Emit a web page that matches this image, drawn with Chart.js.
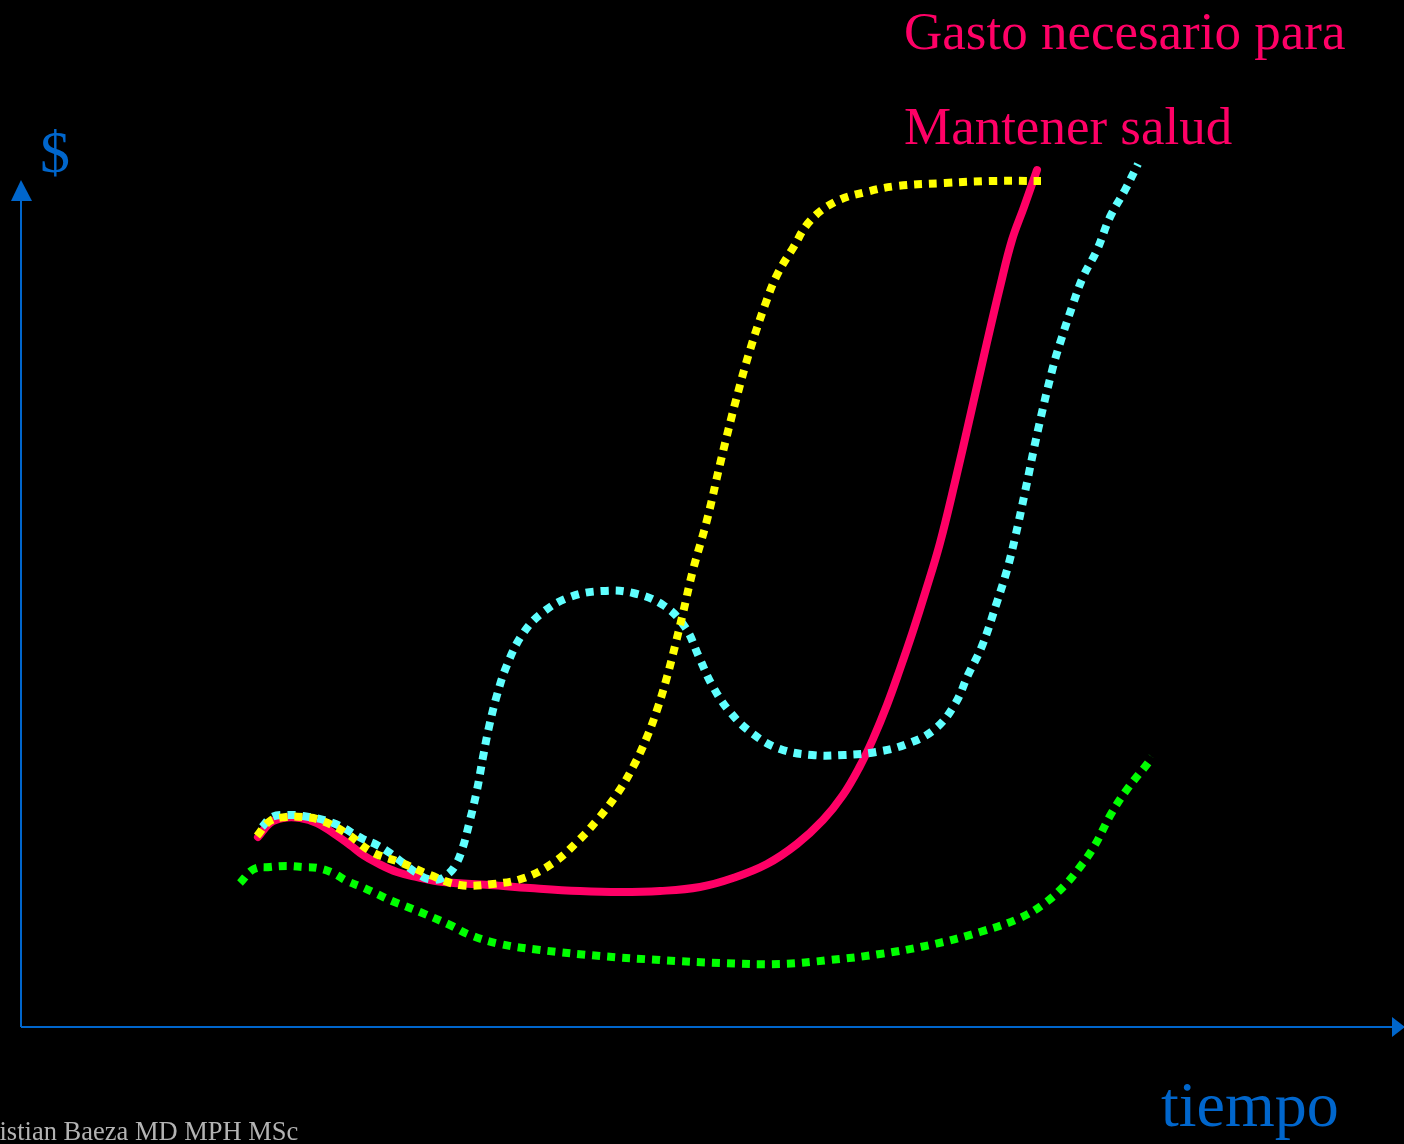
<!DOCTYPE html>
<html>
<head>
<meta charset="utf-8">
<script src="https://cdn.jsdelivr.net/npm/chart.js@4.4.1/dist/chart.umd.min.js"></script>
<style>
    body { margin: 0; background: #000; overflow: hidden; }
    #wrap { position: relative; width: 1404px; height: 1144px; background: #000; }
    .txt { position: absolute; font-family: "Liberation Serif", "DejaVu Serif", serif; line-height: 1; white-space: nowrap; }
</style>
</head>
<body>
<div id="wrap">
    <canvas id="myChart"></canvas>
    <div class="txt" style="left:904px; top:5px; font-size:53px; color:#FF0066;">Gasto necesario para</div>
    <div class="txt" style="left:904px; top:100px; font-size:53px; color:#FF0066;">Mantener salud</div>
    <div class="txt" style="left:40px; top:122px; font-size:60px; color:#0066CC;">$</div>
    <div class="txt" style="left:1161px; top:1073px; font-size:64px; color:#0066CC;">tiempo</div>
    <div class="txt" style="left:-27px; top:1118px; font-size:26.5px; color:#B3B3B3;">Cristian Baeza MD MPH MSc</div>
</div>
<script>
// tiempo (x) y gasto $ (y), unidades arbitrarias
const gastoNecesario = [
    [237, 190], [249, 204], [262, 209], [279, 209], [296, 204], [312, 194], [329, 182], [342, 172],
    [356, 164], [376, 155], [396, 150], [422, 145], [469, 142], [509, 139], [559, 136], [599, 135],
    [639, 136], [679, 140], [712, 149], [746, 163], [776, 183], [802, 207], [822, 232], [839, 261],
    [852, 288], [866, 322], [879, 358], [892, 396], [905, 437], [919, 484], [934, 545], [949, 610],
    [964, 676], [979, 740], [991, 787], [1003, 820], [1016, 857]
];

const curvaAmarilla = [
    [236, 191], [249, 206], [265, 210], [281, 210], [299, 207], [325, 194], [351, 175], [381, 164],
    [409, 152], [439, 142], [472, 143], [503, 149], [532, 164], [555, 184], [577, 208], [596, 233],
    [612, 260], [626, 290], [637, 320], [646, 350], [654, 381], [662, 414], [672, 457], [686, 507],
    [700, 567], [715, 627], [729, 677], [744, 722], [756, 752], [772, 779], [789, 806], [814, 825],
    [845, 835], [876, 841], [924, 844], [972, 846], [1020, 846]
];

const curvaCeleste = [
    [241, 200], [251, 210], [266, 212], [282, 211], [312, 204], [342, 188], [356, 182], [369, 174],
    [382, 164], [394, 155], [407, 148], [419, 148], [427, 153], [434, 161], [441, 177], [449, 207],
    [456, 237], [462, 270], [468, 300], [476, 332], [486, 362], [501, 392], [521, 414], [549, 430],
    [581, 436], [612, 434], [642, 422], [664, 400], [678, 370], [691, 342], [709, 315], [732, 293],
    [759, 278], [791, 272], [823, 272], [855, 275], [886, 283], [914, 298], [934, 323], [947, 352],
    [961, 381], [976, 425], [986, 457], [994, 489], [1004, 535], [1017, 597], [1032, 660], [1041, 690],
    [1051, 720], [1062, 750], [1076, 777], [1089, 810], [1104, 837], [1117, 863]
];

const curvaVerde = [
    [219, 144], [233, 158], [249, 160], [266, 161], [282, 160], [297, 159], [312, 154], [326, 146],
    [341, 140], [356, 133], [371, 126], [384, 121], [399, 115], [429, 102], [449, 92], [479, 83],
    [519, 77], [579, 71], [639, 67], [699, 64], [759, 63], [809, 67], [859, 73], [909, 82],
    [959, 95], [999, 109], [1024, 124], [1044, 142], [1059, 160], [1074, 182], [1090, 213], [1107, 239],
    [1127, 264], [1131, 270]
];

const xMax = 1383;
const yMax = 847;

function toXY(arr) {
    return arr.map(p => ({ x: p[0], y: p[1] }));
}

// ejes azules con flechas
const ejes = {
    id: 'ejes',
    afterDraw(chart) {
        const ctx = chart.ctx;
        const a = chart.chartArea;
        ctx.save();
        ctx.strokeStyle = '#0066CC';
        ctx.fillStyle = '#0066CC';
        ctx.lineWidth = 2;
        ctx.beginPath();
        ctx.moveTo(a.left, a.bottom);
        ctx.lineTo(a.right - 12, a.bottom);
        ctx.moveTo(a.left, a.bottom);
        ctx.lineTo(a.left, a.top + 20);
        ctx.stroke();
        ctx.beginPath();
        ctx.moveTo(a.right - 12, a.bottom - 10);
        ctx.lineTo(a.right + 1, a.bottom);
        ctx.lineTo(a.right - 12, a.bottom + 10);
        ctx.closePath();
        ctx.fill();
        ctx.beginPath();
        ctx.moveTo(a.left - 10, a.top + 21);
        ctx.lineTo(a.left, a.top);
        ctx.lineTo(a.left + 11, a.top + 21);
        ctx.closePath();
        ctx.fill();
        ctx.restore();
    }
};

const punteado = [8, 7];

const data = {
    datasets: [
        {
            label: 'amarilla',
            data: toXY(curvaAmarilla),
            borderColor: '#FFFF00',
            borderWidth: 8,
            borderDash: punteado,
            borderCapStyle: 'butt',
            tension: 0.4
        },
        {
            label: 'celeste',
            data: toXY(curvaCeleste),
            borderColor: '#5FFFFF',
            borderWidth: 8,
            borderDash: punteado,
            borderCapStyle: 'butt',
            tension: 0.4
        },
        {
            label: 'Gasto necesario para Mantener salud',
            data: toXY(gastoNecesario),
            borderColor: '#FF0066',
            borderWidth: 8,
            borderCapStyle: 'round',
            tension: 0.4
        },
        {
            label: 'verde',
            data: toXY(curvaVerde),
            borderColor: '#00FF00',
            borderWidth: 8,
            borderDash: punteado,
            borderCapStyle: 'butt',
            tension: 0.4
        }
    ]
};

const config = {
    type: 'line',
    data: data,
    plugins: [ejes],
    options: {
        responsive: true,
        maintainAspectRatio: false,
        animation: false,
        layout: { padding: { left: 21, right: 0, top: 180, bottom: 117 } },
        elements: { point: { radius: 0, hoverRadius: 0 } },
        clip: false,
        scales: {
            x: { type: 'linear', min: 0, max: xMax, display: false },
            y: { type: 'linear', min: 0, max: yMax, display: false }
        },
        plugins: {
            legend: { display: false },
            tooltip: { enabled: false }
        }
    }
};

const chart = new Chart(document.getElementById('myChart'), config);
</script>
</body>
</html>
